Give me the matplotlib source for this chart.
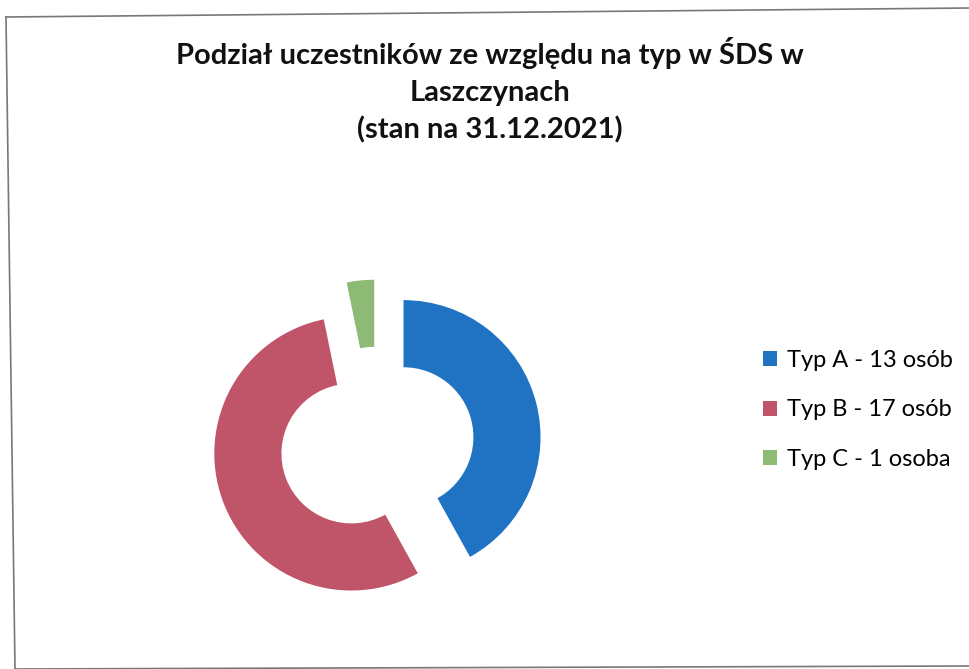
import matplotlib
matplotlib.use("Agg")
import matplotlib.pyplot as plt
from matplotlib.lines import Line2D

labels = ["Typ A - 13 osób", "Typ B - 17 osób", "Typ C - 1 osoba"]
values = [13, 17, 1]
colors = ["#1f73c2", "#c0556a", "#8dba74"]
title = "Podział uczestników ze względu na typ w ŚDS w\nLaszczynach\n(stan na 31.12.2021)"

W, H = 969, 669
fig = plt.figure(figsize=(W / 100, H / 100), dpi=100)
fig.patch.set_facecolor("white")

# chart border (slightly skewed as in the scan)
def fx(x): return x / W
def fy(y): return 1 - y / H
fig.add_artist(Line2D([fx(6), fx(969)], [fy(17), fy(8)], color="#777777", lw=1.2))
fig.add_artist(Line2D([fx(6), fx(15)], [fy(17), fy(669)], color="#777777", lw=1.2))
fig.add_artist(Line2D([fx(15), fx(969)], [fy(669), fy(666)], color="#777777", lw=1.2))

# pie axes: centre at (377, 444) px, radius 137 px
R = 137.0
cx, cy = 377, 444
half = 200
ax = fig.add_axes([fx(cx - half), fy(cy + half), 2 * half / W, 2 * half / H])
wedges, _ = ax.pie(values, colors=colors, startangle=90, counterclock=False,
                   explode=[0.2, 0.2, 0.2], radius=1.0,
                   wedgeprops=dict(width=0.49, edgecolor="none"))
ax.set_xlim(-half / R, half / R)
ax.set_ylim(-half / R, half / R)
ax.set_aspect("equal")
ax.axis("off")

fig.text(fx(490), fy(37), title, ha="center", va="top", fontsize=21,
         fontweight="bold", family="Lato", linespacing=1.5, color="#111111")

leg = fig.legend(wedges, labels, loc="center left",
                 bbox_to_anchor=(fx(763), fy(410)), frameon=False,
                 prop=dict(family="Lato", size=17),
                 handlelength=0.6, handleheight=0.6, handletextpad=0.4,
                 labelspacing=1.2, borderpad=0, borderaxespad=0)

fig.savefig("out.png", dpi=100, facecolor="white")
